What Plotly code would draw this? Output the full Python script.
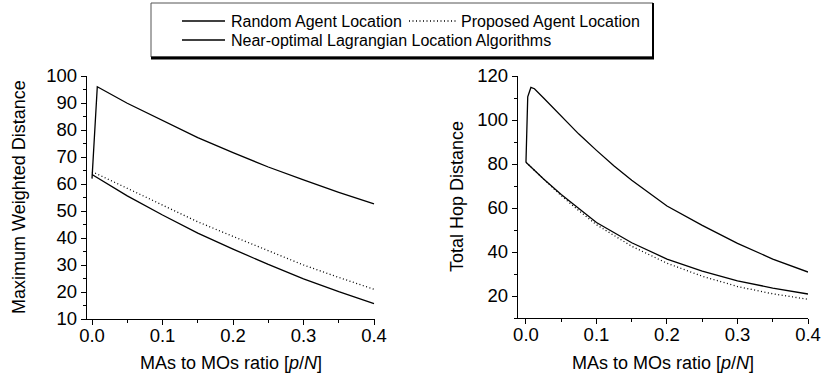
import plotly.graph_objects as go

W, H = 822, 378

# ---------------- data ----------------
# Left panel: Maximum Weighted Distance
left_random_x = [0.0, 0.0075, 0.05, 0.1, 0.15, 0.2, 0.25, 0.3, 0.35, 0.4]
left_random_y = [62.0, 96.0, 89.9, 83.4, 77.2, 71.6, 66.3, 61.5, 56.9, 52.6]

left_prop_x = [0.0, 0.05, 0.1, 0.15, 0.2, 0.25, 0.3, 0.35, 0.4]
left_prop_y = [64.6, 58.4, 52.2, 46.0, 40.6, 35.2, 30.0, 25.4, 21.0]

left_near_x = [0.0, 0.05, 0.1, 0.15, 0.2, 0.25, 0.3, 0.35, 0.4]
left_near_y = [63.5, 55.6, 48.5, 41.8, 35.9, 30.2, 24.9, 20.1, 15.7]

# Right panel: Total Hop Distance
right_random_x = [0.0, 0.0025, 0.007, 0.012, 0.025, 0.05, 0.075, 0.1, 0.125,
                  0.15, 0.175, 0.2, 0.25, 0.3, 0.35, 0.4]
right_random_y = [80.8, 110.5, 114.8, 114.2, 110.0, 101.8, 93.6, 86.2, 79.1,
                  72.6, 66.8, 60.9, 52.1, 43.9, 36.8, 30.9]

right_prop_x = [0.0, 0.025, 0.05, 0.075, 0.1, 0.15, 0.2, 0.25, 0.3, 0.35, 0.4]
right_prop_y = [80.8, 73.0, 65.6, 58.8, 52.4, 42.6, 34.9, 29.0, 24.3, 21.0, 18.5]

right_near_x = [0.0, 0.025, 0.05, 0.075, 0.1, 0.15, 0.2, 0.25, 0.3, 0.35, 0.4]
right_near_y = [80.8, 73.2, 66.1, 59.6, 53.4, 44.2, 36.8, 31.3, 26.9, 23.6, 20.9]

x_tick_vals = [0.0, 0.1, 0.2, 0.3, 0.4]
x_tick_text = ["0.0", "0.1", "0.2", "0.3", "0.4"]
left_y_ticks = [10, 20, 30, 40, 50, 60, 70, 80, 90, 100]
right_y_ticks = [20, 40, 60, 80, 100, 120]

legend_names = ["Random Agent Location", "Proposed Agent Location",
                "Near-optimal Lagrangian Location Algorithms"]
x_title = "MAs to MOs ratio [<i>p</i>/<i>N</i>]"
left_y_title = "Maximum Weighted Distance"
right_y_title = "Total Hop Distance"

FONT = "Liberation Sans, Arial, sans-serif"


def px(x):
    return x / W


def py(y):
    return 1 - y / H


fig = go.Figure()

line_solid = dict(color="black", width=1.3)
line_dot = dict(color="black", width=1.3, dash="1px,2.5px")

fig.add_trace(go.Scatter(x=left_random_x, y=left_random_y, mode="lines", line=line_solid,
                         name=legend_names[0], showlegend=False, xaxis="x", yaxis="y"))
fig.add_trace(go.Scatter(x=left_prop_x, y=left_prop_y, mode="lines", line=line_dot,
                         name=legend_names[1], showlegend=False, xaxis="x", yaxis="y"))
fig.add_trace(go.Scatter(x=left_near_x, y=left_near_y, mode="lines", line=line_solid,
                         name=legend_names[2], showlegend=False, xaxis="x", yaxis="y"))

fig.add_trace(go.Scatter(x=right_random_x, y=right_random_y, mode="lines", line=line_solid,
                         name=legend_names[0], showlegend=False, xaxis="x2", yaxis="y2"))
fig.add_trace(go.Scatter(x=right_prop_x, y=right_prop_y, mode="lines", line=line_dot,
                         name=legend_names[1], showlegend=False, xaxis="x2", yaxis="y2"))
fig.add_trace(go.Scatter(x=right_near_x, y=right_near_y, mode="lines", line=line_solid,
                         name=legend_names[2], showlegend=False, xaxis="x2", yaxis="y2"))

tickfont = dict(family=FONT, size=18.5, color="black")


def xaxis_cfg(domain, rng, anchor):
    return dict(domain=domain, range=rng, anchor=anchor, automargin=False,
                showgrid=False, zeroline=False, showline=True, linecolor="black", linewidth=1.3,
                ticks="outside", ticklen=5, tickwidth=1.2, tickcolor="black",
                ticklabelstandoff=-5,
                tickvals=x_tick_vals, ticktext=x_tick_text, tickfont=tickfont,
                minor=dict(ticks="outside", ticklen=3, tickwidth=1, tickcolor="black",
                           tick0=0, dtick=0.05))


def yaxis_cfg(domain, rng, anchor, vals, minor_dtick):
    return dict(domain=domain, range=rng, anchor=anchor, automargin=False,
                showgrid=False, zeroline=False, showline=True, linecolor="black", linewidth=1.3,
                ticks="outside", ticklen=5, tickwidth=1.2, tickcolor="black",
                tickvals=vals, ticktext=[str(v) for v in vals], tickfont=tickfont,
                minor=dict(ticks="outside", ticklen=3, tickwidth=1, tickcolor="black",
                           tick0=0, dtick=minor_dtick))


fig.update_layout(
    width=W, height=H,
    margin=dict(l=0, r=0, t=0, b=0, pad=0, autoexpand=False),
    paper_bgcolor="white", plot_bgcolor="white",
    showlegend=False,
    xaxis=xaxis_cfg([px(87), px(375)], [-0.0071, 0.4014], "y"),
    yaxis=yaxis_cfg([py(319), py(76)], [10, 100], "x", left_y_ticks, 5),
    xaxis2=xaxis_cfg([px(518), px(808)], [-0.0113, 0.4], "y2"),
    yaxis2=yaxis_cfg([py(318), py(76)], [10, 120], "x2", right_y_ticks, 10),
)

ann = []
tfont = dict(family=FONT, size=18, color="black")
ann.append(dict(x=px(230.5), y=py(363), xref="paper", yref="paper", text=x_title,
                showarrow=False, font=tfont, xanchor="center", yanchor="middle"))
ann.append(dict(x=px(663), y=py(363), xref="paper", yref="paper", text=x_title,
                showarrow=False, font=tfont, xanchor="center", yanchor="middle"))
ann.append(dict(x=px(19), y=py(197), xref="paper", yref="paper", text=left_y_title,
                showarrow=False, font=tfont, textangle=-90, xanchor="center", yanchor="middle"))
ann.append(dict(x=px(457), y=py(197), xref="paper", yref="paper", text=right_y_title,
                showarrow=False, font=tfont, textangle=-90, xanchor="center", yanchor="middle"))

# manual legend
lfont = dict(family=FONT, size=16, color="black")
ann.append(dict(x=px(229), y=py(21), xref="paper", yref="paper", text=legend_names[0],
                showarrow=False, font=lfont, xanchor="left", yanchor="middle"))
ann.append(dict(x=px(459), y=py(21), xref="paper", yref="paper", text=legend_names[1],
                showarrow=False, font=lfont, xanchor="left", yanchor="middle"))
ann.append(dict(x=px(229), y=py(40), xref="paper", yref="paper", text=legend_names[2],
                showarrow=False, font=lfont, xanchor="left", yanchor="middle"))

shapes = []
# legend frame
shapes.append(dict(type="rect", xref="paper", yref="paper", x0=px(151), x1=px(653),
                   y0=py(57), y1=py(3), line=dict(color="#555555", width=1)))
shapes.append(dict(type="line", xref="paper", yref="paper", x0=px(151), x1=px(654),
                   y0=py(58), y1=py(58), line=dict(color="black", width=3)))
shapes.append(dict(type="line", xref="paper", yref="paper", x0=px(653), x1=px(653),
                   y0=py(58), y1=py(3), line=dict(color="black", width=2)))
# legend samples
shapes.append(dict(type="line", xref="paper", yref="paper", x0=px(182), x1=px(225),
                   y0=py(21), y1=py(21), line=dict(color="black", width=1.3)))
shapes.append(dict(type="line", xref="paper", yref="paper", x0=px(409), x1=px(457),
                   y0=py(21), y1=py(21), line=dict(color="black", width=1.3, dash="1px,2.5px")))
shapes.append(dict(type="line", xref="paper", yref="paper", x0=px(182), x1=px(225),
                   y0=py(40), y1=py(40), line=dict(color="black", width=1.3)))

fig.update_layout(annotations=ann, shapes=shapes)

fig.write_html("out.html",
               config={"displayModeBar": False},
               post_script="document.body.style.margin='0';document.body.style.overflow='hidden';")
